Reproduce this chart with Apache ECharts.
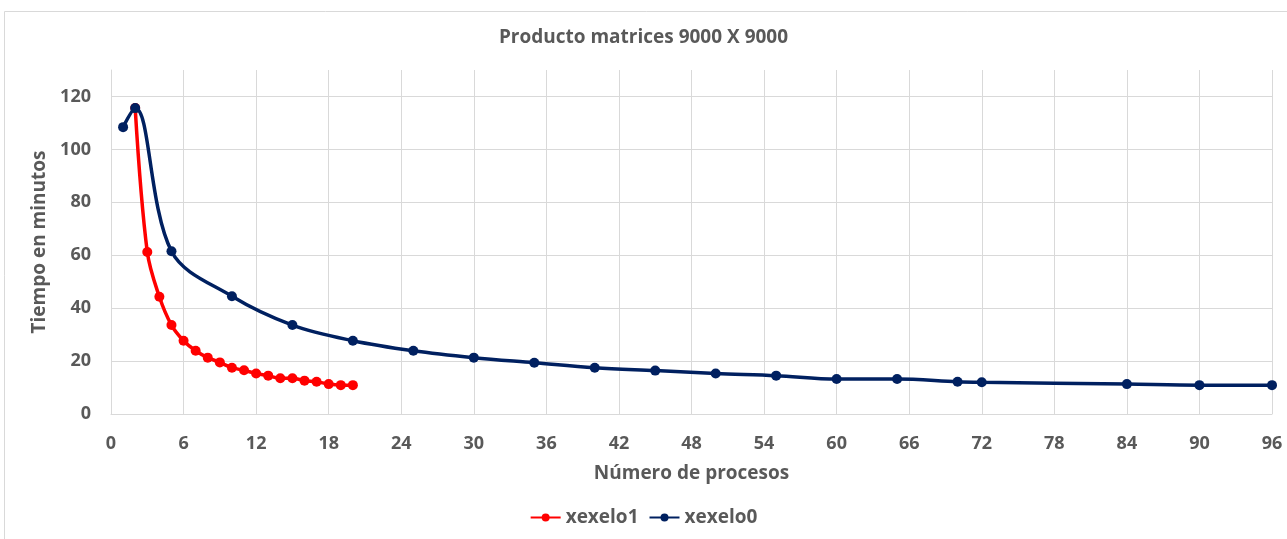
<!DOCTYPE html>
<html>
<head>
<meta charset="utf-8">
<script src="https://cdn.jsdelivr.net/npm/echarts@6/dist/echarts.min.js"></script>
<style>
  html, body { margin: 0; padding: 0; background: #ffffff; }
  #chart { width: 1287px; height: 539px; }
</style>
</head>
<body>
<div id="chart"></div>
<script>
// Número de procesos y tiempo (minutos) para cada máquina
const procsXexelo1 = [2, 3, 4, 5, 6, 7, 8, 9, 10, 11, 12, 13, 14, 15, 16, 17, 18, 19, 20];
const timeXexelo1 = [115.6, 61.2, 44.3, 33.6, 27.7, 23.9, 21.3, 19.5, 17.5, 16.5, 15.3, 14.5, 13.5, 13.5, 12.6, 12.2, 11.3, 10.9, 10.9];

const procsXexelo0 = [1, 2, 5, 10, 15, 20, 25, 30, 35, 40, 45, 50, 55, 60, 65, 70, 72, 84, 90, 96];
const timeXexelo0 = [108.4, 115.6, 61.5, 44.5, 33.6, 27.7, 23.9, 21.3, 19.4, 17.5, 16.4, 15.3, 14.5, 13.2, 13.2, 12.2, 12.0, 11.3, 10.9, 10.9];

const seriesNames = ['xexelo1', 'xexelo0'];
const chartTitle = 'Producto matrices 9000 X 9000';
const xAxisTitle = 'Número de procesos';
const yAxisTitle = 'Tiempo en minutos';

const pairs = (xs, ys) => xs.map((x, i) => [x, ys[i]]);

const labelFont = { fontFamily: 'Open Sans', fontWeight: 'bold', color: '#595959' };

const chart = echarts.init(document.getElementById('chart'), null, { renderer: 'canvas' });
chart.setOption({
  animation: false,
  backgroundColor: '#ffffff',
  graphic: [{
    type: 'rect',
    shape: { x: 4.5, y: 11.5, width: 1300, height: 540 },
    style: { fill: 'none', stroke: '#d9d9d9', lineWidth: 1 },
    silent: true,
    z: -1
  }],
  title: {
    text: chartTitle,
    left: 'center',
    top: 23,
    textStyle: { fontFamily: 'Open Sans', fontSize: 19, fontWeight: 'bold', color: '#595959' }
  },
  legend: {
    data: seriesNames,
    bottom: 7,
    left: 'center',
    itemWidth: 30,
    itemHeight: 10,
    itemGap: 10,
    textStyle: Object.assign({ fontSize: 19 }, labelFont)
  },
  grid: { left: 111, right: 15, top: 70, bottom: 125, containLabel: false },
  xAxis: {
    type: 'value',
    min: 0,
    max: 96,
    interval: 6,
    name: xAxisTitle,
    nameLocation: 'middle',
    nameGap: 50,
    nameTextStyle: Object.assign({ fontSize: 19 }, labelFont),
    axisLine: { show: true, lineStyle: { color: '#d9d9d9', width: 1 } },
    axisTick: { show: false },
    axisLabel: Object.assign({ fontSize: 18, margin: 21 }, labelFont),
    splitLine: { show: true, lineStyle: { color: '#d9d9d9', width: 1 } }
  },
  yAxis: {
    type: 'value',
    min: 0,
    max: 130,
    interval: 20,
    name: yAxisTitle,
    nameLocation: 'middle',
    nameGap: 61,
    nameRotate: 90,
    nameTextStyle: Object.assign({ fontSize: 19 }, labelFont),
    axisLine: { show: true, lineStyle: { color: '#d9d9d9', width: 1 } },
    axisTick: { show: false },
    axisLabel: Object.assign({
      fontSize: 18,
      margin: 20,
      showMaxLabel: false,
      formatter: v => (v > 120 ? '' : String(v))
    }, labelFont),
    splitLine: { show: true, showMaxLine: false, lineStyle: { color: '#d9d9d9', width: 1 } }
  },
  series: [
    {
      name: seriesNames[0],
      type: 'line',
      data: pairs(procsXexelo1, timeXexelo1),
      smooth: 0.35,
      symbol: 'circle',
      symbolSize: 10,
      lineStyle: { color: '#ff0000', width: 3.5 },
      itemStyle: { color: '#ff0000' },
      z: 2
    },
    {
      name: seriesNames[1],
      type: 'line',
      data: pairs(procsXexelo0, timeXexelo0),
      smooth: 0.35,
      symbol: 'circle',
      symbolSize: 10,
      lineStyle: { color: '#002060', width: 3.5 },
      itemStyle: { color: '#002060' },
      z: 3
    }
  ]
});
</script>
</body>
</html>
